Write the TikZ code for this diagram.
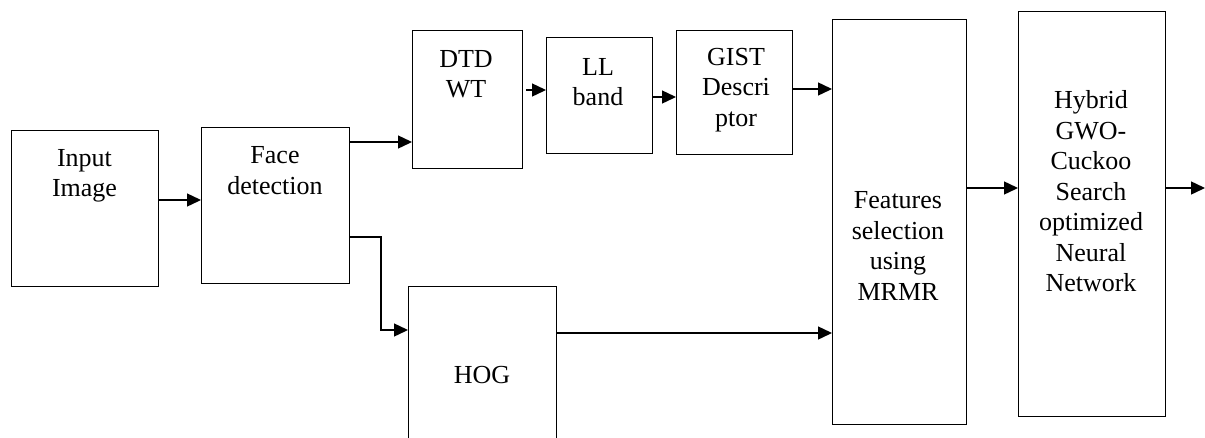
\documentclass[tikz,border=0pt]{standalone}
\usepackage{fontspec}
\setmainfont{Liberation Serif}
\usetikzlibrary{arrows.meta,calc}
\begin{document}
\begin{tikzpicture}[x=1pt,y=-1pt,
  box/.style={draw=black,line width=1pt,inner sep=0pt,outer sep=0pt,anchor=north west},
  lbl/.style={align=center,inner sep=0pt,font=\fontsize{26}{30.5}\selectfont},
  arr/.style={line width=1.4pt,-{Triangle[length=14pt,width=13pt]}}]
\clip (0,0) rectangle (1205,437);
\fill[white] (0,0) rectangle (1205,437);
% boxes
\node[box,minimum width=147pt,minimum height=156pt] (input) at (11,130) {};
\node[box,minimum width=148pt,minimum height=156pt] (face) at (201,127) {};
\node[box,minimum width=110pt,minimum height=138pt] (dtd) at (412,30) {};
\node[box,minimum width=106pt,minimum height=116pt] (ll) at (546,37) {};
\node[box,minimum width=116pt,minimum height=124pt] (gist) at (676,30) {};
\node[box,minimum width=148pt,minimum height=200pt] (hog) at (408,286) {};
\node[box,minimum width=134pt,minimum height=405pt] (mrmr) at (832,19) {};
\node[box,minimum width=147pt,minimum height=405pt] (hybrid) at (1018,11) {};
% texts
\node[lbl] (tinput) at (84.5,176) {Input\\Image};
\node[lbl] (tface) at (275,170.5) {Face\\detection};
\node[lbl] (tdtd) at (466,74) {DTD\\WT};
\node[lbl] (tll) at (598,82) {LL\\band};
\node[lbl] (tgist) at (736,90) {GIST\\Descri\\ptor};
\node[lbl] (thog) at (482,375) {HOG};
\node[lbl] (tmrmr) at (898,246) {Features\\selection\\using\\MRMR};
\node[lbl] (thybrid) at (1091,191.5) {Hybrid\\GWO-\\Cuckoo\\Search\\optimized\\Neural\\Network};
% connectors
\coordinate (out) at (1205,188);
\draw[arr] ($(input.east)+(0,-8)$) -- ($(face.west)+(0,-5)$);
\draw[arr] ($(face.north east)+(0,15)$) -- ($(dtd.north west)+(0,112)$);
\draw[arr] ($(face.north east)+(0,110)$) -- ++(32,0) |- ($(hog.north west)+(0,44)$);
\draw[arr] ($(dtd.north east)+(4,60)$) -- ($(ll.north west)+(0,53)$);
\draw[arr] ($(ll.north east)+(0,60)$) -- ($(gist.north west)+(0,67)$);
\draw[arr] ($(gist.north east)+(0,59)$) -- ($(mrmr.north west)+(0,70)$);
\draw[arr] ($(hog.north east)+(0,47)$) -- ($(mrmr.north west)+(0,314)$);
\draw[arr] ($(mrmr.north east)+(0,169)$) -- ($(hybrid.north west)+(0,177)$);
\draw[arr] ($(hybrid.north east)+(0,177)$) -- (out);
\end{tikzpicture}
\end{document}
